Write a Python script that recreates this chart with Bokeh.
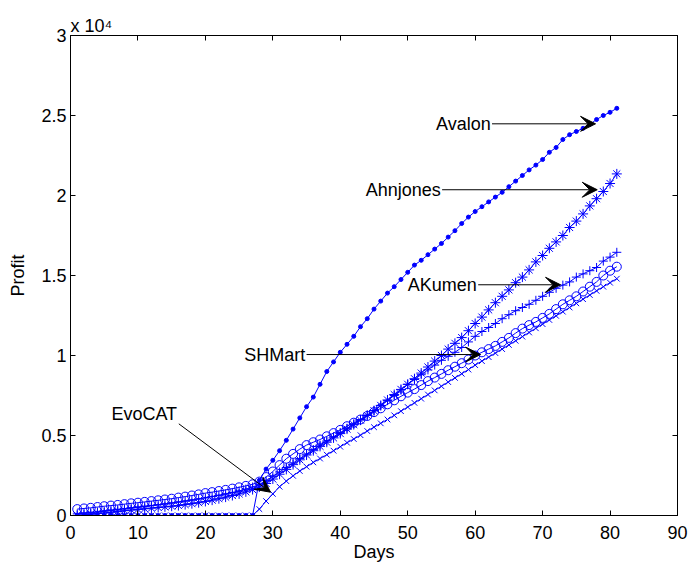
from bokeh.plotting import figure
from bokeh.models import Arrow, VeeHead, Label, LinearAxis, FixedTicker, Range1d
from bokeh.embed import file_html
from bokeh.resources import INLINE

days = list(range(1, 82))

avalon = [0]*27 + [
    2200, 2900, 3450, 4050, 4700, 5400, 6100, 6800, 7400, 8200, 9000, 9600, 10200,
    10700, 11200, 11800, 12300, 12900, 13400, 13900, 14300, 14750, 15200,
    15650, 15950, 16300, 16650, 17000, 17400, 17800, 18250, 18650, 19000,
    19300, 19600, 19900, 20200, 20550, 20900, 21250, 21600, 21900, 22250,
    22700, 23000, 23500, 23800, 24000, 24200, 24450, 24750, 25000, 25200, 25450]

ahnjones = [
    0, 40, 80, 120, 160, 200, 250, 300, 340, 380,
    420, 460, 500, 540, 580, 620, 680, 740, 800, 880,
    960, 1050, 1150, 1250, 1350, 1480, 1620, 1780, 2000, 2280,
    2580, 2880, 3180, 3480, 3780, 4050, 4320, 4580, 4850, 5120,
    5400, 5680, 5960, 6250, 6550, 6880, 7220, 7560, 7880, 8200,
    8550, 8900, 9280, 9650, 10000, 10400, 10760, 11120, 11550, 12000,
    12400, 12850, 13300, 13700, 14100, 14550, 14900, 15350, 15850, 16250,
    16700, 17100, 17500, 18000, 18400, 18850, 19350, 19800, 20250, 20750, 21350]

akumen = [
    100, 140, 180, 220, 270, 320, 370, 420, 470, 520,
    570, 620, 670, 720, 780, 840, 900, 960, 1030, 1100,
    1180, 1260, 1350, 1440, 1540, 1650, 1780, 1950, 2180, 2450,
    2720, 3000, 3280, 3560, 3840, 4120, 4400, 4660, 4920, 5180,
    5450, 5720, 6000, 6280, 6560, 6860, 7180, 7500, 7850, 8200,
    8500, 8800, 9100, 9400, 9700, 9950, 10200, 10500, 10850, 11200,
    11500, 11750, 12000, 12300, 12550, 12800, 13000, 13200, 13450, 13700,
    13950, 14200, 14400, 14600, 14900, 15100, 15300, 15500, 15900, 16150, 16450]

shmart = [
    400, 440, 480, 530, 580, 620, 660, 710, 760, 800,
    850, 900, 950, 1000, 1050, 1120, 1180, 1250, 1320, 1400,
    1460, 1530, 1600, 1680, 1760, 1850, 1950, 2120, 2400, 2750,
    3150, 3550, 3850, 4150, 4400, 4580, 4750, 4950, 5150, 5350,
    5580, 5800, 6000, 6220, 6460, 6700, 6950, 7200, 7450, 7680,
    7900, 8150, 8400, 8620, 8850, 9080, 9300, 9520, 9750, 10000,
    10200, 10400, 10600, 10850, 11100, 11400, 11680, 11900, 12100, 12350,
    12600, 12900, 13200, 13450, 13700, 14000, 14300, 14600, 15000, 15300, 15550]

evocat = [0]*27 + [
    400, 900, 1350,
    1800, 2150, 2480, 2780, 3050, 3320, 3560, 3800, 4050, 4300,
    4550, 4780, 5020, 5280, 5520, 5760, 6000, 6260, 6520, 6780,
    7040, 7300, 7560, 7820, 8080, 8340, 8600, 8860, 9120, 9400,
    9650, 9900, 10150, 10400, 10660, 10920, 11180, 11440, 11700, 11960,
    12220, 12480, 12740, 13000, 13260, 13520, 13780, 14040, 14300, 14550, 14800]

x_ticks = [0, 10, 20, 30, 40, 50, 60, 70, 80, 90]
y_ticks = [0, 5000, 10000, 15000, 20000, 25000, 30000]
y_tick_labels = ["0", "0.5", "1", "1.5", "2", "2.5", "3"]
exponent_text = "x 10\u2074"

# annotation text arrows: name, tail (day, profit), tip (day, profit)
ann_names = ["Avalon", "Ahnjones", "AKumen", "SHMart", "EvoCAT"]
ann_tail_x = [62.5, 55.1, 60.45, 35.0, 16.06]
ann_tail_y = [24480, 20360, 14420, 10060, 5730]
ann_tip_x = [77.85, 78.1, 72.66, 60.8, 29.66]
ann_tip_y = [24480, 20360, 14420, 10060, 1456]
ann_text_x = [62.3, 54.9, 60.25, 34.8, 15.8]
ann_text_y = [24480, 20360, 14420, 10060, 6375]

FONT = "Liberation Sans"
BLUE = "#0000FF"

p = figure(width=689, height=567,
           x_range=Range1d(0, 90), y_range=Range1d(0, 30000),
           output_backend="svg", toolbar_location=None,
           min_border_left=70, min_border_right=12,
           min_border_top=35, min_border_bottom=52)
p.xgrid.visible = False
p.ygrid.visible = False
p.outline_line_color = "black"
p.outline_line_alpha = 1.0
p.background_fill_color = "white"
p.border_fill_color = "white"

p.title.text = exponent_text
p.title.align = "left"
p.title.text_font = FONT
p.title.text_font_size = "18px"
p.title.text_font_style = "normal"
p.title.text_color = "black"
p.title.standoff = 0

for ax in (p.xaxis[0], p.yaxis[0]):
    ax.major_tick_in = 5
    ax.major_tick_out = 0
    ax.minor_tick_line_color = None
    ax.axis_line_color = "black"
    ax.major_tick_line_color = "black"
    ax.major_label_text_font = FONT
    ax.major_label_text_font_size = "18px"
    ax.major_label_text_color = "black"
    ax.axis_label_text_font = FONT
    ax.axis_label_text_font_size = "18px"
    ax.axis_label_text_font_style = "normal"
    ax.axis_label_text_color = "black"

p.xaxis[0].ticker = FixedTicker(ticks=x_ticks)
p.yaxis[0].ticker = FixedTicker(ticks=y_ticks)
p.yaxis[0].major_label_overrides = {t: l for t, l in zip(y_ticks, y_tick_labels)}
p.xaxis[0].major_label_standoff = 10
p.yaxis[0].major_label_standoff = 4
p.xaxis[0].axis_label = "Days"
p.yaxis[0].axis_label = "Profit"
p.xaxis[0].axis_label_standoff = 0
p.yaxis[0].axis_label_standoff = 10

for loc, tk in (("right", y_ticks), ("above", x_ticks)):
    ax = LinearAxis(ticker=FixedTicker(ticks=tk))
    ax.major_tick_in = 5
    ax.major_tick_out = 0
    ax.minor_tick_line_color = None
    ax.axis_line_color = "black"
    ax.major_tick_line_color = "black"
    ax.major_label_text_font_size = "0px"
    ax.major_label_standoff = 0
    ax.axis_label_standoff = 0
    p.add_layout(ax, loc)

# series
p.line(days, shmart, line_color=BLUE, line_width=1)
p.scatter(days, shmart, marker="circle", size=9, line_color=BLUE, fill_color=None, line_width=1)
p.line(days, evocat, line_color=BLUE, line_width=1)
p.scatter(days, evocat, marker="x", size=8, line_color=BLUE, line_width=1)
p.line(days, akumen, line_color=BLUE, line_width=1)
p.scatter(days, akumen, marker="cross", size=9, line_color=BLUE, line_width=1)
p.line(days, ahnjones, line_color=BLUE, line_width=1)
p.scatter(days, ahnjones, marker="asterisk", size=10, line_color=BLUE, line_width=1)
p.line(days, avalon, line_color=BLUE, line_width=1)
p.scatter(days, avalon, marker="circle", size=4, line_color=BLUE, fill_color=BLUE)

# annotations
for name, tx, ty, hx, hy, lx, ly in zip(ann_names, ann_tail_x, ann_tail_y, ann_tip_x, ann_tip_y, ann_text_x, ann_text_y):
    p.add_layout(Arrow(end=VeeHead(size=15, fill_color="black", line_color="black"),
                       x_start=tx, y_start=ty, x_end=hx, y_end=hy,
                       line_color="black", line_width=1))
    p.add_layout(Label(x=lx, y=ly, text=name, text_align="right", text_baseline="middle",
                       text_font=FONT, text_font_size="18px", text_color="black"))

open("out.html", "w").write(file_html(p, INLINE))
